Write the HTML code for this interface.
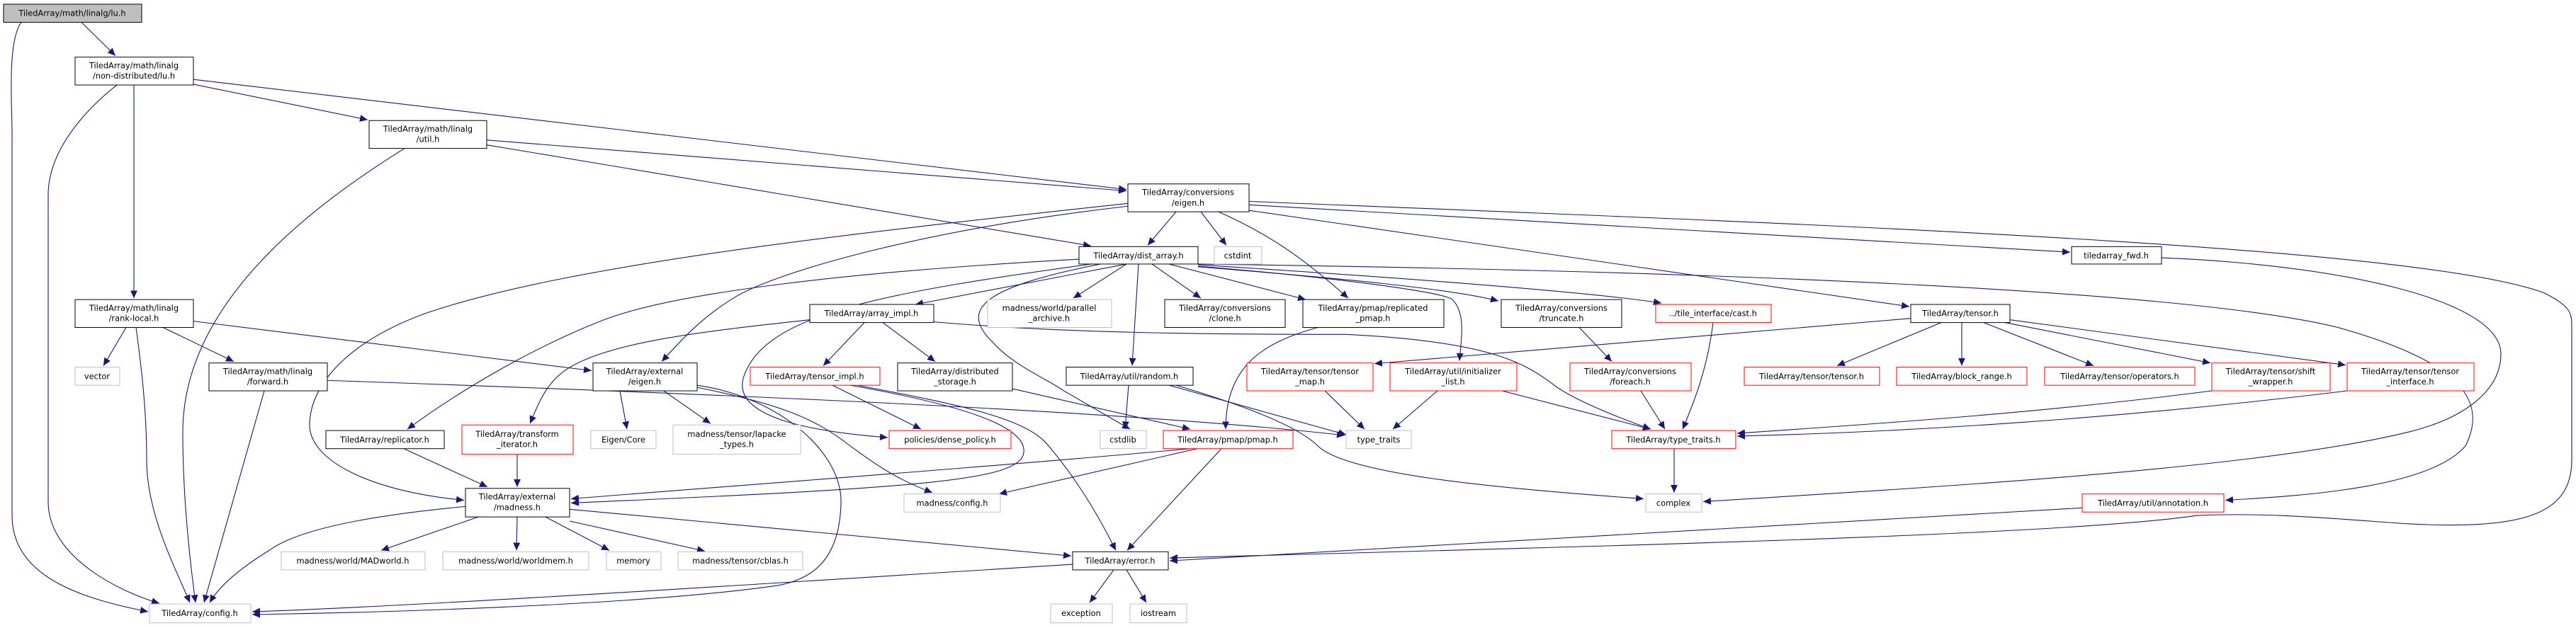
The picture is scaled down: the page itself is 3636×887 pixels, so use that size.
<!DOCTYPE html>
<html><head><meta charset="utf-8"><style>
html,body{margin:0;padding:0;background:#fff;}
svg{display:block;}
text{font-family:"DejaVu Sans","Liberation Sans",sans-serif;font-size:11.4px;fill:#000;text-anchor:middle;}
.e{fill:none;stroke:#191970;stroke-width:1.1;marker-end:url(#a);}
.n{fill:#fff;stroke:#000;stroke-width:1;}
.g{fill:#fff;stroke:#bfbfbf;stroke-width:1;}
.r{fill:#fff;stroke:#ff0000;stroke-width:1;}
</style></head><body>
<svg width="3636" height="887" viewBox="0 0 3636 887" xmlns="http://www.w3.org/2000/svg">
<defs><marker id="a" markerUnits="userSpaceOnUse" markerWidth="12" markerHeight="10" refX="11" refY="5" orient="auto"><path d="M0,0 L11,5 L0,10 z" fill="#191970"/></marker></defs>
<g transform="scale(1,0.984)">
<!-- edges -->
<path class="e" d="M30,32 C10,60 17,150 17,190 L17,740 C17,830 120,860 209,878"/>
<path class="e" d="M115,32 L163,80"/>
<path class="e" d="M273,114 L1590,272"/>
<path class="e" d="M273,121 L519,172"/>
<path class="e" d="M189,122 L189,428"/>
<path class="e" d="M165,122 C130,150 68,210 68,280 L68,720 C68,800 170,850 225,866"/>
<path class="e" d="M687,201 L1590,274"/>
<path class="e" d="M687,208 L1540,353"/>
<path class="e" d="M571,213 C450,290 258,430 258,620 C258,720 270,820 276,865"/>
<path class="e" d="M178,470 L146,525"/>
<path class="e" d="M230,470 L330,519"/>
<path class="e" d="M192,470 C200,530 207,590 207,660 C207,740 250,820 268,865"/>
<path class="e" d="M273,461 L835,532"/>
<path class="e" d="M373,561 L288,865"/>
<path class="e" d="M462,546 C1000,565 1600,590 1898,625"/>
<path class="e" d="M570,644 L688,699"/>
<path class="e" d="M730,652 L730,699"/>
<path class="e" d="M657,727 C520,740 420,760 380,790 C340,815 310,840 296,865"/>
<path class="e" d="M675,742 L538,790"/>
<path class="e" d="M730,742 L729,790"/>
<path class="e" d="M770,742 L860,790"/>
<path class="e" d="M804,748 L995,791"/>
<path class="e" d="M804,731 L1512,798"/>
<path class="e" d="M1660,304 L1620,352"/>
<path class="e" d="M1695,304 L1731,352"/>
<path class="e" d="M1592,296 C1300,330 1100,390 1040,425 C990,455 960,490 934,519"/>
<path class="e" d="M1592,292 C1200,335 800,380 600,450 C480,495 437,560 437,610 C437,660 520,705 655,718"/>
<path class="e" d="M1720,304 C1800,340 1850,380 1903,428"/>
<path class="e" d="M1763,302 L2695,440"/>
<path class="e" d="M1763,294 L2922,362"/>
<path class="e" d="M1763,289 C2500,320 3400,350 3590,420 C3630,440 3630,450 3630,470 L3630,660 C3630,740 3560,760 3400,752 C3300,745 3200,735 3100,740 C2900,770 2200,785 1651,801"/>
<path class="e" d="M1590,379 L1292,437"/>
<path class="e" d="M1590,379 L1515,428"/>
<path class="e" d="M1626,379 L1695,428"/>
<path class="e" d="M1607,379 L1598,525"/>
<path class="e" d="M1553,379 C1400,410 1350,440 1400,490 C1430,525 1480,545 1500,560 L1595,616"/>
<path class="e" d="M1650,379 L1843,430"/>
<path class="e" d="M1691,383 C1900,400 2050,415 2115,432"/>
<path class="e" d="M1691,380 C2000,400 2250,420 2345,435"/>
<path class="e" d="M1691,382 C1900,400 2040,420 2050,430 C2070,450 2062,490 2060,518"/>
<path class="e" d="M1691,379 C2500,390 3100,420 3300,470 C3440,510 3520,560 3480,640 C3430,700 3250,712 3141,718"/>
<path class="e" d="M1523,372 C1200,390 950,420 850,460 C750,500 650,560 575,616"/>
<path class="e" d="M1540,379 C1250,420 1080,450 1050,540 C1030,600 1150,620 1253,628"/>
<path class="e" d="M984,553 C1100,570 1190,650 1187,723 C1185,800 1150,830 1100,840 C900,870 500,880 356,882"/>
<path class="e" d="M1514,810 C1200,830 600,870 356,878"/>
<path class="e" d="M1220,463 L1162,525"/>
<path class="e" d="M1246,463 L1320,519"/>
<path class="e" d="M1143,459 C1000,475 860,490 800,530 C770,550 760,580 748,608"/>
<path class="e" d="M1318,462 C1500,478 1700,480 1900,480 C2100,490 2150,520 2190,550 C2220,575 2300,605 2330,616"/>
<path class="e" d="M1175,553 L1300,616"/>
<path class="e" d="M1210,553 C1350,580 1450,600 1480,640 C1530,700 1560,760 1575,790"/>
<path class="e" d="M1200,553 C1350,580 1450,610 1445,650 C1440,690 1300,700 806,722"/>
<path class="e" d="M875,561 L885,616"/>
<path class="e" d="M937,561 L1003,608"/>
<path class="e" d="M984,556 C1100,580 1150,600 1200,640 C1240,670 1270,690 1316,707"/>
<path class="e" d="M1429,558 L1680,616"/>
<path class="e" d="M1593,553 L1588,616"/>
<path class="e" d="M1650,553 L1900,624"/>
<path class="e" d="M1660,553 C1750,580 1830,610 1860,640 C1900,680 2100,700 2320,716"/>
<path class="e" d="M1680,644 C1400,670 1000,700 806,716"/>
<path class="e" d="M1690,644 L1410,709"/>
<path class="e" d="M1724,644 L1591,790"/>
<path class="e" d="M1860,470 C1790,490 1730,520 1730,616"/>
<path class="e" d="M2229,470 L2275,519"/>
<path class="e" d="M2316,561 L2350,616"/>
<path class="e" d="M2418,463 C2410,530 2390,580 2375,616"/>
<path class="e" d="M2029,561 L1966,616"/>
<path class="e" d="M2120,561 L2330,616"/>
<path class="e" d="M1870,561 L1926,616"/>
<path class="e" d="M2363,644 L2363,707"/>
<path class="e" d="M2697,457 L1940,522"/>
<path class="e" d="M2740,463 L2593,525"/>
<path class="e" d="M2769,463 L2769,525"/>
<path class="e" d="M2800,463 L2955,525"/>
<path class="e" d="M2830,463 L3120,521"/>
<path class="e" d="M2837,459 L3311,524"/>
<path class="e" d="M3122,561 C2900,590 2700,605 2452,622"/>
<path class="e" d="M3313,561 C3000,600 2700,620 2452,626"/>
<path class="e" d="M3051,370 C3300,380 3530,430 3530,508 C3530,560 3480,600 3400,620 C3200,670 2800,695 2404,720"/>
<path class="e" d="M2939,729 L1651,805"/>
<path class="e" d="M1572,818 L1538,865"/>
<path class="e" d="M1590,818 L1618,865"/>

<!-- nodes -->
<rect x="5" y="6" width="195" height="26" fill="#bfbfbf" stroke="#000"/><text x="102" y="23">TiledArray/math/linalg/lu.h</text>
<rect class="n" x="106" y="82" width="167" height="40"/><text x="189" y="98">TiledArray/math/linalg</text><text x="189" y="113">/non-distributed/lu.h</text>
<rect class="n" x="521" y="173" width="166" height="40"/><text x="604" y="189">TiledArray/math/linalg</text><text x="604" y="204">/util.h</text>
<rect class="n" x="106" y="430" width="167" height="40"/><text x="189" y="446">TiledArray/math/linalg</text><text x="189" y="461">/rank-local.h</text>
<rect class="g" x="106" y="527" width="63" height="26"/><text x="137" y="544">vector</text>
<rect class="n" x="295" y="521" width="167" height="40"/><text x="378" y="537">TiledArray/math/linalg</text><text x="378" y="552">/forward.h</text>
<rect class="n" x="460" y="618" width="167" height="26"/><text x="543" y="635">TiledArray/replicator.h</text>
<rect class="r" x="652" y="610" width="157" height="42"/><text x="730" y="627">TiledArray/transform</text><text x="730" y="642">_iterator.h</text>
<rect class="n" x="657" y="701" width="147" height="41"/><text x="730" y="717">TiledArray/external</text><text x="730" y="732">/madness.h</text>
<rect class="g" x="397" y="792" width="203" height="26"/><text x="498" y="809">madness/world/MADworld.h</text>
<rect class="g" x="625" y="792" width="206" height="26"/><text x="728" y="809">madness/world/worldmem.h</text>
<rect class="g" x="856" y="792" width="77" height="26"/><text x="894" y="809">memory</text>
<rect class="g" x="211" y="867" width="143" height="27"/><text x="282" y="884">TiledArray/config.h</text>
<rect class="g" x="834" y="618" width="92" height="26"/><text x="880" y="635">Eigen/Core</text>
<rect class="n" x="837" y="521" width="147" height="40"/><text x="910" y="537">TiledArray/external</text><text x="910" y="552">/eigen.h</text>
<rect class="n" x="1592" y="264" width="171" height="40"/><text x="1677" y="280">TiledArray/conversions</text><text x="1677" y="295">/eigen.h</text>
<rect class="n" x="1523" y="354" width="168" height="25"/><text x="1607" y="371">TiledArray/dist_array.h</text>
<rect class="g" x="1714" y="354" width="67" height="25"/><text x="1747" y="371">cstdint</text>
<rect class="n" x="1143" y="437" width="175" height="26"/><text x="1230" y="454">TiledArray/array_impl.h</text>
<rect class="g" x="1394" y="430" width="175" height="40"/><text x="1481" y="446">madness/world/parallel</text><text x="1481" y="461">_archive.h</text>
<rect class="n" x="1644" y="430" width="170" height="40"/><text x="1729" y="446">TiledArray/conversions</text><text x="1729" y="461">/clone.h</text>
<rect class="r" x="1059" y="527" width="183" height="26"/><text x="1150" y="544">TiledArray/tensor_impl.h</text>
<rect class="n" x="1267" y="521" width="162" height="40"/><text x="1348" y="537">TiledArray/distributed</text><text x="1348" y="552">_storage.h</text>
<rect class="n" x="1505" y="527" width="179" height="26"/><text x="1594" y="544">TiledArray/util/random.h</text>
<rect class="g" x="950" y="610" width="180" height="42"/><text x="1040" y="627">madness/tensor/lapacke</text><text x="1040" y="642">_types.h</text>
<rect class="r" x="1255" y="618" width="172" height="26"/><text x="1341" y="635">policies/dense_policy.h</text>
<rect class="g" x="1553" y="618" width="65" height="26"/><text x="1585" y="635">cstdlib</text>
<rect class="r" x="1642" y="618" width="183" height="26"/><text x="1733" y="635">TiledArray/pmap/pmap.h</text>
<rect class="g" x="1276" y="709" width="136" height="26"/><text x="1344" y="726">madness/config.h</text>
<rect class="g" x="957" y="792" width="176" height="26"/><text x="1045" y="809">madness/tensor/cblas.h</text>
<rect class="n" x="1514" y="792" width="135" height="26"/><text x="1581" y="809">TiledArray/error.h</text>
<rect class="g" x="1483" y="867" width="87" height="27"/><text x="1526" y="884">exception</text>
<rect class="g" x="1595" y="867" width="80" height="27"/><text x="1635" y="884">iostream</text>
<rect class="r" x="1760" y="521" width="178" height="40"/><text x="1849" y="537">TiledArray/tensor/tensor</text><text x="1849" y="552">_map.h</text>
<rect class="n" x="1839" y="430" width="199" height="40"/><text x="1938" y="446">TiledArray/pmap/replicated</text><text x="1938" y="461">_pmap.h</text>
<rect class="n" x="2119" y="430" width="170" height="40"/><text x="2204" y="446">TiledArray/conversions</text><text x="2204" y="461">/truncate.h</text>
<rect class="r" x="2337" y="437" width="163" height="26"/><text x="2418" y="454">../tile_interface/cast.h</text>
<rect class="r" x="1962" y="521" width="179" height="40"/><text x="2051" y="537">TiledArray/util/initializer</text><text x="2051" y="552">_list.h</text>
<rect class="r" x="2216" y="521" width="171" height="40"/><text x="2301" y="537">TiledArray/conversions</text><text x="2301" y="552">/foreach.h</text>
<rect class="r" x="2462" y="527" width="191" height="26"/><text x="2557" y="544">TiledArray/tensor/tensor.h</text>
<rect class="g" x="1900" y="618" width="92" height="26"/><text x="1946" y="635">type_traits</text>
<rect class="r" x="2275" y="618" width="175" height="26"/><text x="2362" y="635">TiledArray/type_traits.h</text>
<rect class="g" x="2323" y="709" width="79" height="26"/><text x="2362" y="726">complex</text>
<rect class="n" x="2697" y="437" width="140" height="26"/><text x="2767" y="454">TiledArray/tensor.h</text>
<rect class="r" x="2677" y="527" width="184" height="26"/><text x="2769" y="544">TiledArray/block_range.h</text>
<rect class="r" x="2886" y="527" width="212" height="26"/><text x="2992" y="544">TiledArray/tensor/operators.h</text>
<rect class="r" x="3122" y="521" width="167" height="40"/><text x="3205" y="537">TiledArray/tensor/shift</text><text x="3205" y="552">_wrapper.h</text>
<rect class="r" x="3313" y="521" width="179" height="40"/><text x="3402" y="537">TiledArray/tensor/tensor</text><text x="3402" y="552">_interface.h</text>
<rect class="n" x="2924" y="354" width="127" height="25"/><text x="2987" y="371">tiledarray_fwd.h</text>
<rect class="r" x="2939" y="709" width="200" height="26"/><text x="3039" y="726">TiledArray/util/annotation.h</text>
</g>
</svg>
</body></html>
